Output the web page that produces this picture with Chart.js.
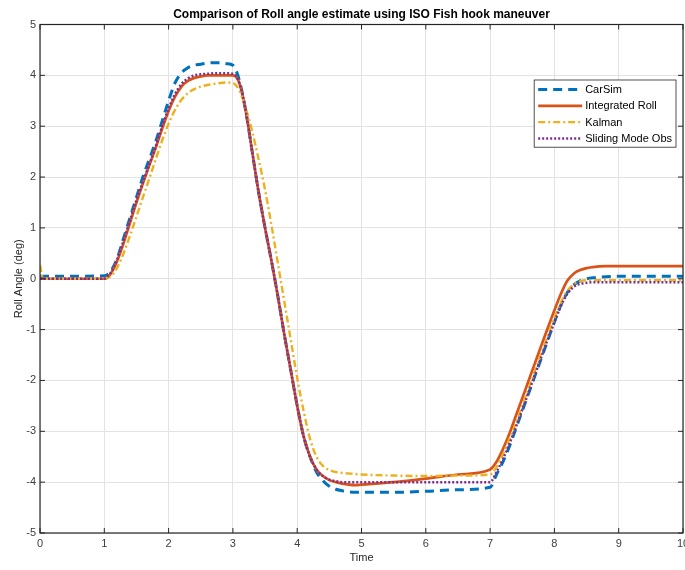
<!DOCTYPE html>
<html>
<head>
<meta charset="utf-8">
<title>Roll angle estimate</title>
<script src="https://cdn.jsdelivr.net/npm/chart.js@4.4.1/dist/chart.umd.min.js"></script>
<style>
  html, body { margin: 0; padding: 0; background: #fff; }
  #wrap { width: 685px; height: 570px; }
</style>
</head>
<body>
<div id="wrap"><canvas id="rollChart" width="685" height="570"></canvas></div>
<script>
// Values (time in s, roll angle in deg)
const timeSec = [0, 0.05, 0.5, 1.0, 1.1, 1.2, 1.3, 1.4, 1.5, 1.6, 1.7, 1.8, 1.9, 2.0, 2.1, 2.2, 2.3, 2.4, 2.5, 2.6, 2.7, 2.8, 2.9, 3.0,
  3.1, 3.2, 3.3, 3.4, 3.5, 3.6, 3.7, 3.8, 3.9, 4.0, 4.1, 4.2, 4.3, 4.4, 4.5, 4.6, 4.7, 4.8, 4.9, 5.0, 5.5, 6.0, 6.5, 7.0,
  7.1, 7.2, 7.3, 7.4, 7.5, 7.6, 7.7, 7.8, 7.9, 8.0, 8.1, 8.2, 8.3, 8.4, 8.5, 8.6, 8.7, 8.8, 9.0, 9.5, 10.0];

const carSim = [0.05, 0.05, 0.05, 0.06, 0.15, 0.4, 0.8, 1.2, 1.6, 2.0, 2.35, 2.7, 3.1, 3.5, 3.85, 4.05, 4.15, 4.2, 4.22, 4.24, 4.25, 4.25, 4.23, 4.2,
  3.9, 3.3, 2.5, 1.7, 1.0, 0.35, -0.35, -1.1, -1.8, -2.5, -3.1, -3.5, -3.8, -3.97, -4.08, -4.14, -4.17, -4.19, -4.2, -4.2, -4.2, -4.18, -4.15, -4.1,
  -3.85, -3.6, -3.3, -2.95, -2.6, -2.25, -1.9, -1.55, -1.2, -0.85, -0.52, -0.27, -0.12, -0.04, 0.0, 0.02, 0.03, 0.04, 0.05, 0.05, 0.05];

const integratedRoll = [0, 0, 0, 0, 0.1, 0.35, 0.7, 1.1, 1.5, 1.87, 2.23, 2.58, 2.95, 3.3, 3.58, 3.78, 3.89, 3.95, 3.98, 4.0, 4.0, 4.0, 4.0, 4.0,
  3.85, 3.3, 2.5, 1.7, 1.0, 0.35, -0.35, -1.1, -1.8, -2.5, -3.1, -3.5, -3.75, -3.88, -3.96, -4.0, -4.03, -4.05, -4.06, -4.05, -4.0, -3.93, -3.85, -3.75,
  -3.6, -3.35, -3.05, -2.7, -2.35, -2.0, -1.65, -1.3, -0.96, -0.62, -0.3, -0.04, 0.1, 0.17, 0.21, 0.23, 0.245, 0.25, 0.25, 0.25, 0.25];

const kalman = [0.27, 0, 0, 0, 0.05, 0.22, 0.5, 0.85, 1.22, 1.6, 1.97, 2.35, 2.72, 3.05, 3.32, 3.52, 3.65, 3.73, 3.78, 3.81, 3.83, 3.85, 3.86, 3.85,
  3.7, 3.35, 2.9, 2.35, 1.75, 1.05, 0.3, -0.45, -1.2, -1.95, -2.6, -3.15, -3.5, -3.68, -3.76, -3.8, -3.82, -3.83, -3.84, -3.85, -3.87, -3.88, -3.87, -3.85,
  -3.7, -3.45, -3.15, -2.85, -2.5, -2.15, -1.8, -1.45, -1.1, -0.77, -0.47, -0.24, -0.11, -0.05, -0.03, -0.03, -0.03, -0.03, -0.03, -0.03, -0.03];

const slidingMode = [0, 0, 0, 0, 0.12, 0.38, 0.75, 1.15, 1.55, 1.9, 2.25, 2.6, 3.0, 3.35, 3.63, 3.83, 3.94, 4.0, 4.02, 4.03, 4.04, 4.04, 4.04, 4.03,
  3.85, 3.3, 2.5, 1.7, 1.0, 0.35, -0.35, -1.1, -1.8, -2.5, -3.1, -3.5, -3.75, -3.88, -3.95, -3.98, -4.0, -4.0, -4.0, -4.0, -4.0, -4.0, -4.0, -4.0,
  -3.8, -3.55, -3.25, -2.92, -2.58, -2.23, -1.88, -1.53, -1.18, -0.86, -0.54, -0.3, -0.16, -0.1, -0.08, -0.07, -0.07, -0.07, -0.07, -0.07, -0.07];

const seriesNames = ['CarSim', 'Integrated Roll', 'Kalman', 'Sliding Mode Obs'];

const FONT = "'Liberation Sans', Arial, Helvetica, sans-serif";

function toPoints(values){
  return values.map((v, i) => ({ x: timeSec[i], y: v }));
}

// MATLAB-like box, inward ticks, title and legend
const matlabAxes = {
  id: 'matlabAxes',
  afterDraw(chart){
    const ctx = chart.ctx;
    const a = chart.chartArea;
    const xs = chart.scales.x, ys = chart.scales.y;
    ctx.save();

    // box
    ctx.strokeStyle = '#262626';
    ctx.lineWidth = 1.2;
    ctx.strokeRect(a.left, a.top, a.right - a.left, a.bottom - a.top);

    // inward ticks
    ctx.lineWidth = 1;
    ctx.beginPath();
    xs.ticks.forEach(t => {
      const px = xs.getPixelForValue(t.value);
      ctx.moveTo(px, a.bottom); ctx.lineTo(px, a.bottom - 5);
      ctx.moveTo(px, a.top); ctx.lineTo(px, a.top + 5);
    });
    ys.ticks.forEach(t => {
      const py = ys.getPixelForValue(t.value);
      ctx.moveTo(a.left, py); ctx.lineTo(a.left + 5, py);
      ctx.moveTo(a.right, py); ctx.lineTo(a.right - 5, py);
    });
    ctx.stroke();

    // title, centered on the plot area
    ctx.fillStyle = '#000';
    ctx.font = 'bold 12px ' + FONT;
    ctx.textAlign = 'center';
    ctx.textBaseline = 'middle';
    ctx.fillText('Comparison of Roll angle estimate using ISO Fish hook maneuver', (a.left + a.right) / 2, a.top - 10);

    // legend
    ctx.font = '11px ' + FONT;
    const rowH = 16.3;
    const sample = 44;
    let textW = 0;
    chart.data.datasets.forEach(ds => { textW = Math.max(textW, ctx.measureText(ds.label).width); });
    const boxW = sample + 7 + textW + 4;
    const boxH = rowH * chart.data.datasets.length + 2;
    const bx = a.right - 7 - boxW;
    const by = a.top + 55.5;
    ctx.fillStyle = '#fff';
    ctx.fillRect(bx, by, boxW, boxH);
    ctx.strokeStyle = '#262626';
    ctx.lineWidth = 0.8;
    ctx.strokeRect(bx, by, boxW, boxH);
    chart.data.datasets.forEach((ds, i) => {
      const cy = by + 9.5 + i * rowH;
      ctx.save();
      ctx.strokeStyle = ds.borderColor;
      ctx.lineWidth = ds.borderWidth;
      ctx.setLineDash(ds.borderDash || []);
      ctx.beginPath();
      ctx.moveTo(bx + 4, cy);
      ctx.lineTo(bx + 4 + sample, cy);
      ctx.stroke();
      ctx.restore();
      ctx.fillStyle = '#000';
      ctx.textAlign = 'left';
      ctx.fillText(ds.label, bx + sample + 7, cy + 0.5);
    });
    ctx.restore();
  }
};

const ctx = document.getElementById('rollChart').getContext('2d');
new Chart(ctx, {
  type: 'line',
  data: {
    datasets: [
      { label: seriesNames[0], data: toPoints(carSim), borderColor: '#0072BD', borderWidth: 3, borderDash: [9, 6], order: 4 },
      { label: seriesNames[1], data: toPoints(integratedRoll), borderColor: '#D95319', borderWidth: 2.7, order: 3 },
      { label: seriesNames[2], data: toPoints(kalman), borderColor: '#EDB120', borderWidth: 2.4, borderDash: [7, 3, 2, 3], order: 2 },
      { label: seriesNames[3], data: toPoints(slidingMode), borderColor: '#7E2F8E', borderWidth: 2.5, borderDash: [2, 2], order: 1 }
    ]
  },
  options: {
    responsive: false,
    animation: false,
    layout: { padding: { top: 24.5, right: 2, left: 0, bottom: 0 } },
    elements: {
      point: { radius: 0, hoverRadius: 0 },
      line: { cubicInterpolationMode: 'monotone', fill: false }
    },
    plugins: {
      legend: { display: false },
      title: { display: false },
      tooltip: { enabled: false }
    },
    scales: {
      x: {
        type: 'linear',
        min: 0, max: 10,
        grid: { color: '#e3e3e3', drawTicks: false },
        border: { display: false },
        ticks: { stepSize: 1, padding: 4, color: '#404040', font: { family: FONT, size: 11 }, maxRotation: 0 },
        title: { display: true, text: 'Time', color: '#262626', font: { family: FONT, size: 11 }, padding: { top: 0, bottom: 5 } },
        afterFit(scale){ scale.height = 37; scale.paddingLeft = 0; scale.paddingRight = 0; }
      },
      y: {
        min: -5, max: 5,
        grid: { color: '#e3e3e3', drawTicks: false },
        border: { display: false },
        ticks: { stepSize: 1, padding: 4, color: '#404040', font: { family: FONT, size: 11 } },
        title: { display: true, text: 'Roll Angle (deg)', color: '#262626', font: { family: FONT, size: 11 }, padding: { top: 12, bottom: 0 } },
        afterFit(scale){ scale.width = 40; scale.paddingTop = 0; scale.paddingBottom = 0; }
      }
    }
  },
  plugins: [matlabAxes]
});
</script>
</body>
</html>
